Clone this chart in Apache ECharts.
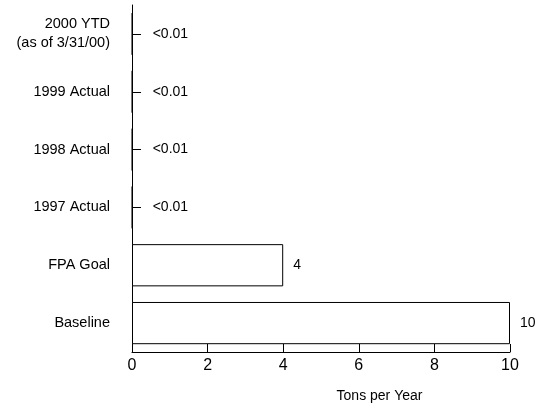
<!DOCTYPE html>
<html>
<head>
<meta charset="utf-8">
<script src="https://cdn.jsdelivr.net/npm/echarts@6/dist/echarts.min.js"></script>
<style>
html,body{margin:0;padding:0;background:#fff;}
#c{width:546px;height:408px;}
</style>
</head>
<body>
<div id="c"></div>
<script>
var categories = ['Baseline', 'FPA Goal', '1997 Actual', '1998 Actual', '1999 Actual', '2000 YTD\n(as of 3/31/00)'];
var values = [10, 4, 0.01, 0.01, 0.01, 0.01];
var valueLabels = ['10', '4', '<0.01', '<0.01', '<0.01', '<0.01'];
var xTicks = [0, 2, 4, 6, 8, 10];
var axisTitle = 'Tons per Year';

var FONT = '"Liberation Sans", Arial, sans-serif';
var chart = echarts.init(document.getElementById('c'), null, {renderer: 'canvas'});

var seriesData = values.map(function (v, i) {
  return {
    value: v,
    label: {distance: v < 0.5 ? 20 : 10}
  };
});

chart.setOption({
  animation: false,
  backgroundColor: '#ffffff',
  grid: {left: 132, right: 36, top: 5, bottom: 56, containLabel: false},
  xAxis: {
    type: 'value',
    min: xTicks[0],
    max: xTicks[xTicks.length - 1],
    interval: 2,
    name: axisTitle,
    nameLocation: 'middle',
    nameGap: 37,
    nameTextStyle: {fontFamily: FONT, fontSize: 14, color: '#000', padding: [0, 0, 0, 117]},
    axisLine: {show: true, lineStyle: {color: '#000', width: 1}},
    axisTick: {show: true, inside: true, length: 8, lineStyle: {color: '#000', width: 1}},
    axisLabel: {fontFamily: FONT, fontSize: 16, color: '#000', margin: 6},
    splitLine: {show: false}
  },
  yAxis: {
    type: 'category',
    data: categories,
    axisLine: {show: true, lineStyle: {color: '#000', width: 1}},
    axisTick: {show: true, inside: true, length: 9, alignWithLabel: true, lineStyle: {color: '#000', width: 1}},
    axisLabel: {fontFamily: FONT, fontSize: 14.5, color: '#000', margin: 22, align: 'right', lineHeight: 19},
    splitLine: {show: false}
  },
  series: [{
    type: 'bar',
    data: seriesData,
    barCategoryGap: '27%',
    itemStyle: {color: '#ffffff', borderColor: '#000', borderWidth: 1},
    label: {
      show: true,
      position: 'right',
      fontFamily: FONT,
      fontSize: 14,
      color: '#000',
      formatter: function (p) { return valueLabels[p.dataIndex]; }
    }
  }]
});
</script>
</body>
</html>
